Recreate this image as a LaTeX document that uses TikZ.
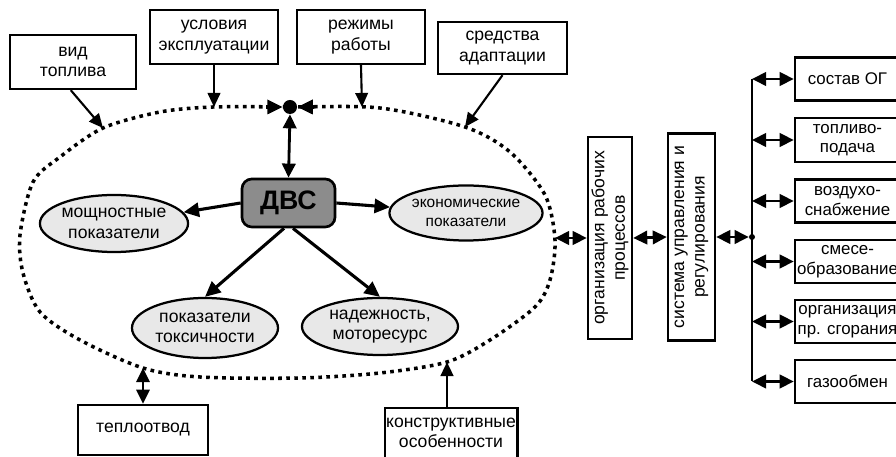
\documentclass[tikz,border=0pt]{standalone}
\usepackage{fontspec}
\setmainfont{Liberation Sans}
\usepackage{tikz}
\usetikzlibrary{shapes, arrows.meta, positioning, calc}
\usepackage{xcolor}

\begin{document}
\begin{tikzpicture}[
    x=0.025cm, y=-0.025cm,
    font=\fontsize{12.5}{14.5}\selectfont,
    % Define colors
    /utils/exec={
        \definecolor{dvsGrey}{RGB}{140, 140, 140}
        \definecolor{paleGrey}{RGB}{232, 232, 232}
    },
    % Node Styles
    box/.style={
        draw=black, line width=1.7pt, fill=white,
        inner sep=1pt, align=center
    },
    vbox/.style={box, rotate=90},
    param/.style={
        ellipse, draw=black, line width=1.6pt, fill=paleGrey,
        inner sep=0pt, align=center
    },
    engine/.style={
        draw=black, line width=1.9pt, fill=dvsGrey, rounded corners=7pt,
        font=\fontsize{19}{20}\selectfont\bfseries,
        minimum width=2.325cm, minimum height=1.2cm
    },
    rbox/.style={box, minimum width=2.625cm, minimum height=1.075cm,
        font=\fontsize{12}{14}\selectfont},
    conn/.style={-{Triangle[length=11pt, width=10pt]}, line width=2.2pt},
    dconn/.style={{Triangle[length=10pt, width=9.5pt]}-{Triangle[length=10pt, width=9.5pt]}, line width=2pt},
    inconn/.style={-{Triangle[length=10pt, width=9pt]}, line width=1.5pt},
    dotline/.style={line width=2.5pt, dash pattern=on 2.6pt off 3.1pt}
]
\useasboundingbox (0,0) rectangle (896,457);

% =================================================================
% SYSTEM BORDER (dotted contour)
% =================================================================
\draw[dotline] plot[smooth cycle] coordinates {
    (213,107) (290,107) (380,108) (465,127) (510,152) (545,195)
    (555,240) (550,280) (535,307) (490,340) (447,362) (380,373)
    (300,378) (200,377) (143,368) (80,340) (40,312) (23,273)
    (20,235) (33,182) (60,157) (103,128) (160,112)};

% points on the contour
\coordinate (pVid) at (103,128);
\coordinate (pUsl) at (213,107);
\coordinate (pRezh) at (362,107);
\coordinate (pSred) at (465,127);
\coordinate (pTeplo) at (143,368);
\coordinate (pKonstr) at (447,362);
\coordinate (pOrg) at (555,238);
\coordinate (hubL) at (266,107);
\coordinate (hubR) at (314,107);

% --- Hub point ---
\node[circle, fill=black, inner sep=0pt, minimum size=0.35cm] (hub) at (290,107) {};
\draw[conn] (hubL) -- (hub.west);
\draw[conn] (hubR) -- (hub.east);

% =================================================================
% OUTER FACTORS
% =================================================================
\node[box, minimum width=3.15cm, minimum height=1.35cm] (vid) at (73,62) {вид\\топлива};
\node[box, minimum width=3.2cm, minimum height=1.35cm] (usl) at (214,37) {условия\\эксплуатации};
\node[box, minimum width=3.2cm, minimum height=1.35cm] (rezh) at (361,37) {режимы\\работы};
\node[box, minimum width=3.225cm, minimum height=1.3cm] (sred) at (502.5,48) {средства\\адаптации};
\node[box, minimum width=3.25cm, minimum height=1.25cm] (teplo) at (143,430) {теплоотвод};
\node[box, minimum width=3.3cm, minimum height=1.25cm] (konstr) at (451,433) {конструктивные\\особенности};

\draw[inconn] (vid.south west) ++(62,0) coordinate (vidOut) -- (pVid);
\draw[inconn] (usl.south) -- (usl.south |- pUsl);
\draw[inconn] (rezh.south) -- (pRezh);
\draw[inconn] (sred.south) -- (pSred);
\draw[dconn, line width=1.6pt] (teplo.north) -- (pTeplo);
\draw[inconn, line width=1.8pt] (konstr.north -| pKonstr) -- (pKonstr);

% =================================================================
% ENGINE AND ITS INDICES
% =================================================================
\node[engine] (dvs) at (288.5,203) {ДВС};
\draw[dconn] (hub.south) -- (dvs.north);

\node[param, minimum width=3.45cm, minimum height=1.425cm] (mosh) at (114,223.5) {мощностные\\показатели};
\node[param, minimum width=3.45cm, minimum height=1.375cm, font=\fontsize{11}{13.5}\selectfont] (econ) at (466,213) {экономические\\показатели};
\node[param, minimum width=3.65cm, minimum height=1.5cm] (tox) at (205,328) {показатели\\токсичности};
\node[param, minimum width=3.9cm, minimum height=1.425cm] (nadezh) at (380,326.5) {надежность,\\моторесурс};

\draw[conn] (dvs.west) -- (mosh);
\draw[conn] (dvs.east) -- (econ);
\draw[conn] (dvs.-100) -- (tox.north);
\draw[conn] (dvs.-80) -- (nadezh.north);

% =================================================================
% WORKING PROCESS CHAIN
% =================================================================
% (rotated boxes: north is the left side, south the right side)
\node[vbox, minimum width=5.05cm, minimum height=1.1cm] (org) at (610,238) {организация рабочих\\процессов};
\node[vbox, minimum width=5.175cm, minimum height=1.175cm] (sys) at (691.5,237) {система управления и\\регулирования};

\draw[dconn] (pOrg) -- (org.north);
\draw[dconn] (org.south) -- (sys.north);

% --- Bus ---
\node[circle, fill=black, inner sep=0pt, minimum size=0.15cm] (bus) at (752,237) {};
\draw[dconn] (sys.south) -- (bus.west);

\node[rbox] (sostav) at (847.5,79) {состав ОГ};
\node[rbox, minimum height=1.1cm] (topl) at (847.5,140) {топливо-\\подача};
\node[rbox] (vozd) at (847.5,201) {воздухо-\\снабжение};
\node[rbox] (smes) at (847.5,261.5) {смесе-\\образование};
\node[rbox] (sgor) at (847.5,321.5) {организация\\пр. сгорания};
\node[rbox] (gaz) at (847.5,381.5) {газообмен};

\draw[line width=2pt] (bus |- sostav.west) -- (bus |- gaz.west);
\draw[dconn] (bus |- sostav.west) -- (sostav.west);
\draw[dconn] (bus |- topl.west) -- (topl.west);
\draw[dconn] (bus |- vozd.west) -- (vozd.west);
\draw[dconn] (bus |- smes.west) -- (smes.west);
\draw[dconn] (bus |- sgor.west) -- (sgor.west);
\draw[dconn] (bus |- gaz.west) -- (gaz.west);

\end{tikzpicture}
\end{document}
